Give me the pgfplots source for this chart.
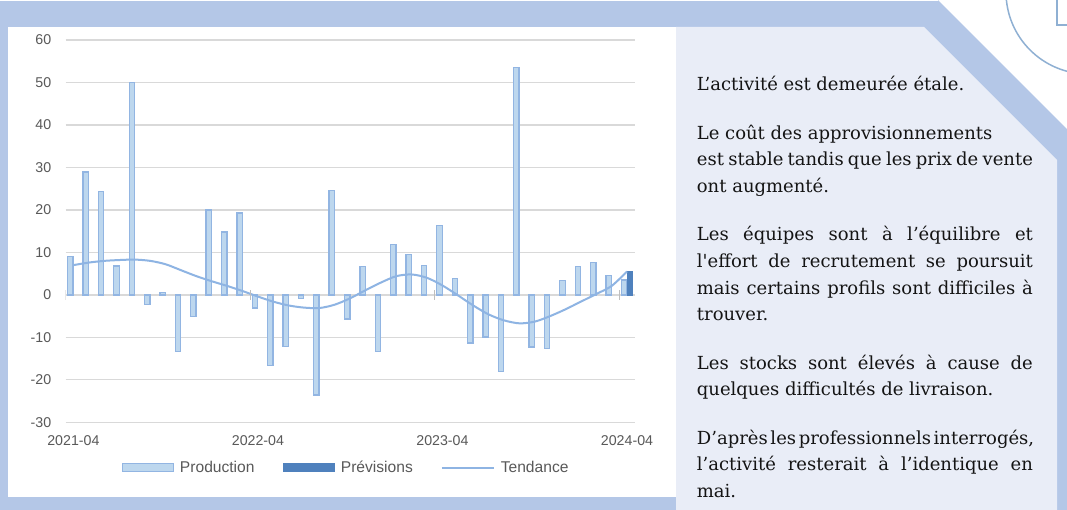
\documentclass[border=0pt]{standalone}
\usepackage{fontspec}
\usepackage{pgfplots}
\usepackage{pgfplotstable}
\pgfplotsset{compat=1.18}
\setmainfont{DejaVu Serif}
\newfontfamily\chartfont{Liberation Sans}
\definecolor{frameblue}{HTML}{B4C7E7}
\definecolor{panel}{HTML}{E9EDF7}
\definecolor{barfill}{HTML}{BDD7EE}
\definecolor{barline}{HTML}{92B5E2}
\definecolor{prevfill}{HTML}{4F81BD}
\definecolor{trend}{HTML}{8EB4E3}
\definecolor{gridc}{HTML}{D9D9D9}
\definecolor{tickc}{HTML}{BFBFBF}
\definecolor{ticktext}{HTML}{595959}
\definecolor{circ}{HTML}{8FB0D3}

\pgfplotstableread{
i v
0 9.0
1 28.9
2 24.3
3 6.8
4 50.0
5 -2.2
6 0.5
7 -13.4
8 -5.1
9 20.0
10 14.8
11 19.3
12 -3.1
13 -16.7
14 -12.1
15 -0.9
16 -23.6
17 24.5
18 -5.7
19 6.7
20 -13.4
21 11.9
22 9.5
23 6.9
24 16.3
25 3.9
26 -11.3
27 -9.9
28 -18.0
29 53.5
30 -12.3
31 -12.6
32 3.3
33 6.6
34 7.6
35 4.6
36 3.5
}\production

\pgfplotstableread{
i t
0 7.0
1 7.6
2 8.0
3 8.2
4 8.3
5 8.0
6 7.2
7 5.8
8 4.4
9 3.2
10 2.1
11 0.9
12 -0.4
13 -1.6
14 -2.5
15 -3.0
16 -3.1
17 -2.3
18 -0.8
19 1.1
20 2.9
21 4.4
22 4.8
23 4.0
24 2.2
25 -0.1
26 -2.5
27 -4.6
28 -6.0
29 -6.7
30 -6.3
31 -5.0
32 -3.4
33 -1.6
34 0.2
35 2.1
36 5.5
}\tendance

\begin{document}
\begin{tikzpicture}
\useasboundingbox (0,0) rectangle (1067pt,510pt);
\begin{scope}[x=1pt,y=-1pt,shift={(0pt,510pt)}]
  \fill[frameblue] (0,0) rectangle (1067,510);
  \fill[white] (0,0) rectangle (938,1.5);
  \fill[white] (938,0) -- (1067,0) -- (1067,129) -- cycle;
  \fill[white] (8,27) rectangle (676,497);
  \fill[panel] (676,27) -- (924,27) -- (1057,160) -- (1057,510) -- (676,510) -- cycle;
  \draw[circ, line width=1.5pt] (1088,-8) circle (82pt);
  \draw[circ, line width=1.5pt] (1057,-3) -- (1057,25) -- (1070,25);
  \begin{scope}[every node/.style={anchor=base west, inner sep=0pt, font=\fontsize{18}{22}\selectfont, text=black!92}]
    \node at (696.7,90.8) {L’activité est demeurée étale.};
    \node at (696.7,139.3) {Le coût des approvisionnements};
    \node at (696.7,165.9) {\makebox[336pt][s]{est stable tandis que les prix de vente}};
    \node at (696.7,192.5) {ont augmenté.};
    \node at (696.7,241.0) {\makebox[336pt][s]{Les équipes sont à l’équilibre et}};
    \node at (696.7,267.6) {\makebox[336pt][s]{l\textquotesingle effort de recrutement se poursuit}};
    \node at (696.7,294.2) {\makebox[336pt][s]{mais certains profils sont difficiles à}};
    \node at (696.7,320.8) {trouver.};
    \node at (696.7,369.3) {\makebox[336pt][s]{Les stocks sont élevés à cause de}};
    \node at (696.7,395.9) {quelques difficultés de livraison.};
    \node at (696.7,444.4) {\spaceskip=0.2em plus 2em minus 0.05em\makebox[336pt][s]{D’après les professionnels interrogés,}};
    \node at (696.7,471.0) {\makebox[336pt][s]{l’activité resterait à l’identique en}};
    \node at (696.7,497.6) {mai.};
  \end{scope}
\end{scope}

\begin{axis}[
  at={(65.7pt,87.7pt)}, anchor=south west,
  scale only axis, width=569pt, height=382.3pt,
  xmin=-0.5, xmax=36.5, ymin=-30, ymax=60,
  axis line style={draw=none},
  tick style={draw=none},
  ytick={-30,-20,-10,0,10,20,30,40,50,60},
  yticklabels={-30,-20,-10,0,10,20,30,40,50,60},
  ymajorgrids, grid style={gridc, line width=1.3pt},
  xtick={0,12,24,36},
  xticklabels={2021-04,2022-04,2023-04,2024-04},
  tick label style={font=\chartfont\fontsize{14.2}{16}\selectfont, text=ticktext},
  yticklabel style={xshift=-11pt},
  xticklabel style={yshift=-10pt},
  legend columns=3,
  legend style={at={(0.491,-0.119)}, anchor=center, draw=none, fill=none,
    font=\chartfont\fontsize{15.6}{18}\selectfont, text=ticktext,
    nodes={inner sep=0pt, anchor=west},
    /tikz/every odd column/.append style={column sep=6pt},
    /tikz/every even column/.append style={column sep=28pt}},
]
\addplot[ybar, bar width=5.4pt, bar shift=-3pt, fill=barfill, draw=barline, line width=1.3pt,
  legend image code/.code={\draw[fill=barfill, draw=barline, line width=1.3pt] (0pt,-4pt) rectangle (51pt,4pt);}]
  table[x=i,y=v]{\production};
\addlegendentry{Production}
\addplot[ybar, bar width=5.4pt, bar shift=3pt, fill=prevfill, draw=prevfill, line width=1.3pt,
  legend image code/.code={\draw[fill=prevfill, draw=prevfill, line width=1.3pt] (0pt,-4pt) rectangle (51pt,4pt);}]
  coordinates {(36,5.5)};
\addlegendentry{Prévisions}
\addplot[trend, line width=2pt, smooth, no marks,
  legend image code/.code={\draw[trend, line width=2pt] (0pt,0pt) -- (52pt,0pt);}]
  table[x=i,y=t]{\tendance};
\addlegendentry{Tendance}
\draw[tickc, line width=1pt] (axis cs:-0.5,-1.2) -- (axis cs:-0.5,1.2);
\draw[tickc, line width=1pt] (axis cs:11.5,-1.2) -- (axis cs:11.5,1.2);
\draw[tickc, line width=1pt] (axis cs:23.5,-1.2) -- (axis cs:23.5,1.2);
\draw[tickc, line width=1pt] (axis cs:35.5,-1.2) -- (axis cs:35.5,1.2);
\end{axis}
\end{tikzpicture}
\end{document}
